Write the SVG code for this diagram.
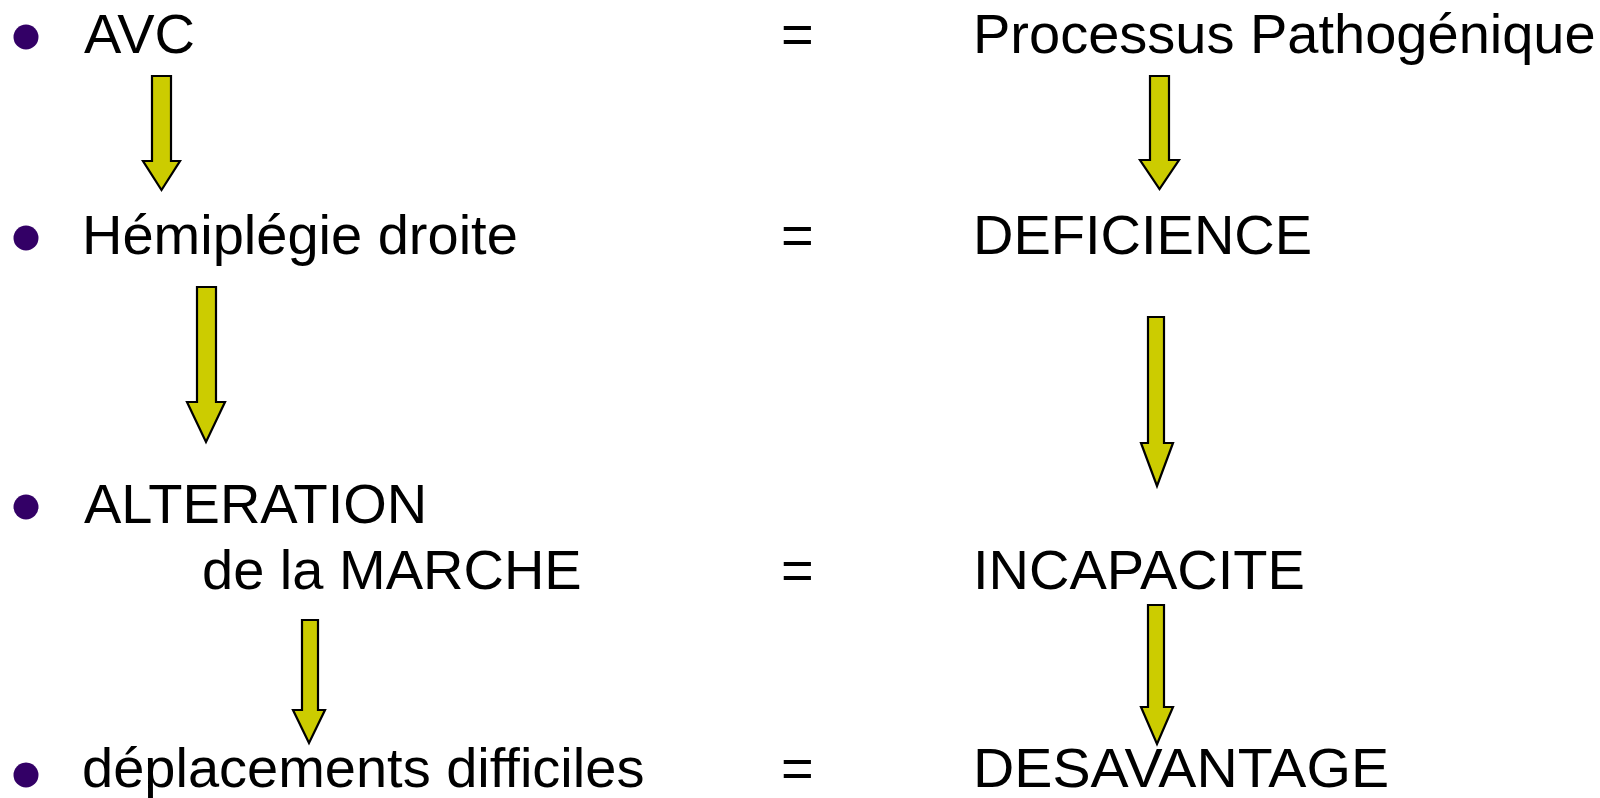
<svg xmlns="http://www.w3.org/2000/svg" width="1600" height="798" viewBox="0 0 1600 798">
  <style>
    .t { font-family: "Liberation Sans", Arial, sans-serif; font-size: 56px; fill: #000; }
    .dot { fill: #330066; }
    .arrow { fill: #CCCC00; stroke: #000; stroke-width: 2.2; stroke-linejoin: miter; }
  </style>
  <rect width="1600" height="798" fill="#fff"/>

  <!-- left column -->
  <g id="avc">
    <circle class="dot" cx="26" cy="37" r="12.5"/>
    <text class="t" x="84" y="53">AVC</text>
  </g>
  <g id="hemiplegie">
    <circle class="dot" cx="26" cy="238" r="12.5"/>
    <text class="t" x="82" y="254">Hémiplégie droite</text>
  </g>
  <g id="alteration">
    <circle class="dot" cx="26" cy="507" r="12.5"/>
    <text class="t" x="84" y="523">ALTERATION</text>
    <text class="t" x="202" y="589">de la MARCHE</text>
  </g>
  <g id="deplacements">
    <circle class="dot" cx="26" cy="775" r="12.5"/>
    <text class="t" x="82" y="787">déplacements difficiles</text>
  </g>

  <!-- equals signs -->
  <g id="equals">
    <text class="t" x="781" y="53">=</text>
    <text class="t" x="781" y="254">=</text>
    <text class="t" x="781" y="589">=</text>
    <text class="t" x="781" y="787">=</text>
  </g>

  <!-- right column -->
  <g id="processus"><text class="t" x="973" y="53">Processus Pathogénique</text></g>
  <g id="deficience"><text class="t" x="973" y="254">DEFICIENCE</text></g>
  <g id="incapacite"><text class="t" x="973" y="589">INCAPACITE</text></g>
  <g id="desavantage"><text class="t" x="973" y="787" textLength="416" lengthAdjust="spacingAndGlyphs">DESAVANTAGE</text></g>

  <!-- block arrows -->
  <g id="connectors">
    <polygon class="arrow" points="152,76 171,76 171,161 180,161 161.5,190 143,161 152,161"/>
    <polygon class="arrow" points="1150,76 1169,76 1169,160 1179,160 1159.5,189 1140,160 1150,160"/>
    <polygon class="arrow" points="197,287 216,287 216,402 225,402 206,442 187,402 197,402"/>
    <polygon class="arrow" points="1148,317 1164,317 1164,443 1173,443 1157,486 1141,443 1148,443"/>
    <polygon class="arrow" points="302,620 318,620 318,710 325,710 309,743 293,710 302,710"/>
    <polygon class="arrow" points="1148,605 1164,605 1164,707 1173,707 1157,744 1141,707 1148,707"/>
  </g>
</svg>
